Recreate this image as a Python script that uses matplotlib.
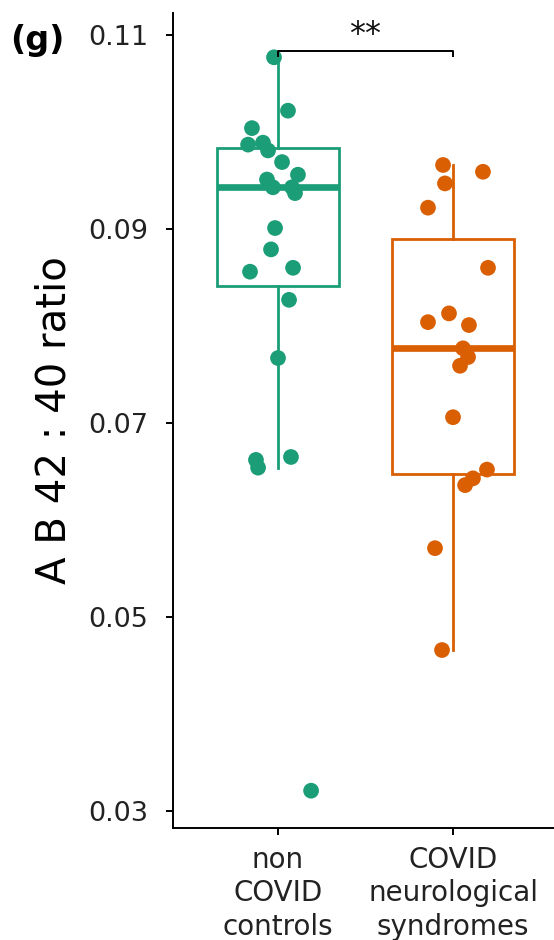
import matplotlib
matplotlib.use("Agg")
import matplotlib.pyplot as plt

# Groups and colours
groups = ["non\nCOVID\ncontrols", "COVID\nneurological\nsyndromes"]
colors = ["#1b9e77", "#d95f02"]

# A-beta 42:40 ratio per patient
controls_ratio = [0.1077, 0.1022, 0.1004, 0.0987, 0.0989, 0.0981, 0.0969,
                  0.0951, 0.0956, 0.0943, 0.0943, 0.0937, 0.0901, 0.0879,
                  0.0856, 0.0860, 0.0827, 0.0767, 0.0662, 0.0654, 0.0665,
                  0.0321]
controls_jitter = [-0.023, 0.057, -0.149, -0.171, -0.086, -0.057, 0.023,
                   -0.063, 0.114, -0.029, 0.080, 0.097, -0.017, -0.040,
                   -0.160, 0.086, 0.063, 0.000, -0.126, -0.114, 0.074,
                   0.189]

covid_ratio = [0.0966, 0.0959, 0.0947, 0.0922, 0.0860, 0.0813, 0.0804,
               0.0801, 0.0777, 0.0768, 0.0759, 0.0706, 0.0652, 0.0643,
               0.0636, 0.0571, 0.0466]
covid_jitter = [-0.057, 0.171, -0.046, -0.143, 0.200, -0.023, -0.143,
                0.091, 0.057, 0.086, 0.040, 0.000, 0.194, 0.114,
                0.069, -0.103, -0.063]

# Box summaries (lower whisker, Q1, median, Q3, upper whisker)
whisker_lo = [0.0654, 0.0466]
box_q1 = [0.0841, 0.0647]
box_med = [0.0943, 0.0777]
box_q3 = [0.0984, 0.0890]
whisker_hi = [0.1077, 0.0966]

y_ticks = [0.03, 0.05, 0.07, 0.09, 0.11]
y_tick_labels = ["0.03", "0.05", "0.07", "0.09", "0.11"]
signif_label = "**"

fig = plt.figure(figsize=(5.54, 9.40), dpi=100)
ax = fig.add_axes([0.3123, 0.1191, 0.6877, 0.8671])

positions = [1, 2]
stats = []
for i in range(2):
    stats.append(dict(whislo=whisker_lo[i], q1=box_q1[i], med=box_med[i],
                      q3=box_q3[i], whishi=whisker_hi[i], fliers=[]))

for i in range(2):
    ax.bxp([stats[i]], positions=[positions[i]], widths=0.70,
           showfliers=False, showcaps=False, patch_artist=True,
           boxprops=dict(facecolor="white", edgecolor=colors[i], linewidth=2.0),
           whiskerprops=dict(color=colors[i], linewidth=2.0),
           medianprops=dict(color=colors[i], linewidth=4.8, solid_capstyle="butt"),
           zorder=2)

all_vals = [controls_ratio, covid_ratio]
all_jit = [controls_jitter, covid_jitter]
for i in range(2):
    xs = [positions[i] + j for j in all_jit[i]]
    ax.scatter(xs, all_vals[i], s=128, color=colors[i], edgecolors="none",
               zorder=3)

# Significance bracket
y_br = 0.1084
y_tip = 0.1077
ax.plot([1, 1, 2, 2], [y_tip, y_br, y_br, y_tip], color="black",
        linewidth=1.4, zorder=4, solid_capstyle="butt", clip_on=False)
ax.text(1.5, y_br + 0.0001, signif_label, ha="center", va="bottom",
        fontsize=23, color="#111111")

ax.set_xlim(0.4, 2.577)
ax.set_ylim(0.02825, 0.11227)
ax.set_xticks(positions)
ax.set_xticklabels(groups, fontsize=20, color="#222222", linespacing=1.24)
ax.set_yticks(y_ticks)
ax.set_yticklabels(y_tick_labels, fontsize=19.5, color="#222222")
ax.tick_params(axis="both", length=5, width=1.4, color="black")
ax.tick_params(axis="y", pad=13)
ax.tick_params(axis="x", pad=8)

for side in ["top", "right"]:
    ax.spines[side].set_visible(False)
for side in ["left", "bottom"]:
    ax.spines[side].set_linewidth(1.4)

ax.set_ylabel("A B 42 : 40 ratio", fontsize=29, labelpad=10)
fig.text(0.068, 0.957, "(g)", fontsize=24, fontweight="bold", ha="center",
         va="center")

fig.savefig("out.png", dpi=100, facecolor="white")
